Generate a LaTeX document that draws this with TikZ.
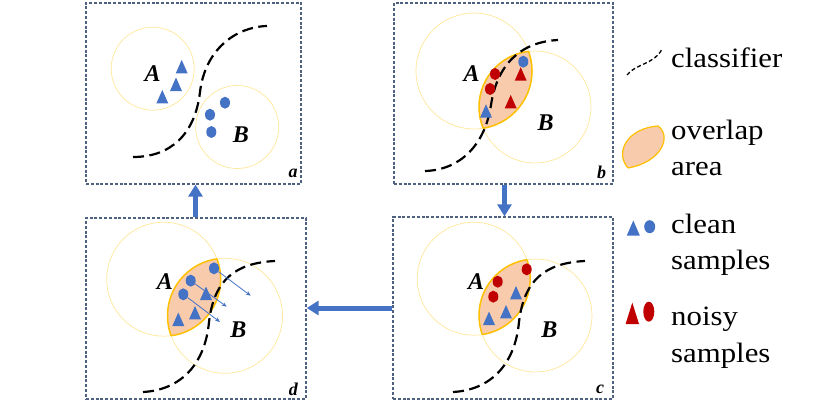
\documentclass[tikz,border=0pt]{standalone}
\usepackage{fontspec}
\setmainfont{Liberation Serif}
\usetikzlibrary{arrows.meta,shapes.geometric}
\definecolor{cblue}{HTML}{4472C4}
\definecolor{cred}{HTML}{C00000}
\definecolor{lensf}{HTML}{F8CBAD}
\definecolor{lensl}{HTML}{FFC000}
\definecolor{ringc}{HTML}{FFE699}
\definecolor{framec}{HTML}{4F6180}
\newcommand\mytri[5]{\fill[#1] (#2-#4,#3+#5) -- (#2+#4,#3+#5) -- (#2,#3-#5) -- cycle;}
\newcommand\mylens[6]{%
  \begin{scope}\clip (#1,#2) circle (#3pt);
    \fill[lensf] (#4,#5) circle (#6pt);
    \draw[draw=lensl,line width=1.5pt] (#4,#5) circle (#6pt);
  \end{scope}
  \begin{scope}\clip (#4,#5) circle (#6pt);
    \draw[draw=lensl,line width=1.5pt] (#1,#2) circle (#3pt);
  \end{scope}}
\begin{document}
\begin{tikzpicture}[x=1pt,y=-1pt,
  panel/.style={draw=framec,line width=1.3pt,dash pattern=on 3pt off 1.8pt,inner sep=0},
  ring/.style={draw=ringc,line width=0.7pt},
  cls/.style={draw=black,line width=2.2pt,dash pattern=on 11pt off 5.5pt},
  dot/.style={ellipse,fill=#1,inner sep=0,minimum width=10pt,minimum height=12pt},
  lbl/.style={font=\fontsize{24}{28}\selectfont\bfseries\itshape,inner sep=0},
  tag/.style={font=\fontsize{18}{21}\selectfont\bfseries\itshape,inner sep=0},
  flow/.style={draw=cblue,line width=5pt,-{Triangle[length=12pt,width=14pt]}},
  move/.style={draw=cblue,line width=0.8pt,-{Stealth[length=5pt,width=4pt]}},
  leg/.style={anchor=base west,inner sep=0,font=\fontsize{28}{36.5}\selectfont,xscale=1.1}
]
\useasboundingbox (0,0) rectangle (830,417);

% panels
\node[panel,minimum width=215pt,minimum height=181pt] (pa) at (193.5,93.5) {};
\node[panel,minimum width=219pt,minimum height=181pt] (pb) at (503.5,93.5) {};
\node[panel,minimum width=220pt,minimum height=181pt] (pd) at (196,308.5) {};
\node[panel,minimum width=220pt,minimum height=182pt] (pc) at (503,308) {};

% panel a
\draw[ring] (152.7,68.7) circle (41.5pt);
\draw[ring] (237.2,127) circle (41.5pt);
\draw[cls] (133,157) .. controls (170,157) and (195,135) .. (200,92) .. controls (205,50) and (235,27) .. (267,26);
\mytri{cblue}{181.7}{66.7}{6}{6.75}
\mytri{cblue}{176}{84.3}{6}{6.75}
\mytri{cblue}{162.3}{96.7}{6}{6.75}
\node[dot=cblue] (a1) at (225,102.7) {};
\node[dot=cblue] (a2) at (210,114.7) {};
\node[dot=cblue] (a3) at (211.3,132) {};
\node[lbl] (aA) at (152.7,74) {A};
\node[lbl] (aB) at (241,135) {B};
\node[tag] (ta) at (293,173.5) {a};

% panel b
\draw[ring] (474,71) circle (58pt);
\draw[ring] (535,107) circle (56pt);
\mylens{474}{71}{58}{535}{107}{56}
\draw[cls] (425,171) .. controls (460,170) and (485,145) .. (491,105) .. controls (497,65) and (520,42) .. (558,40);
\node[dot=cblue] (b1) at (523.3,61.7) {};
\node[dot=cred] (b2) at (495,74) {};
\node[dot=cred] (b3) at (490,89) {};
\mytri{cred}{520.7}{74}{6}{6.75}
\mytri{cred}{510.7}{101.7}{6}{6.75}
\mytri{cblue}{486}{111}{6}{6.75}
\node[lbl] (bA) at (471.7,74) {A};
\node[lbl] (bB) at (545.7,122.7) {B};
\node[tag] (tb) at (601.7,172) {b};

% panel c
\draw[ring] (473.7,278.7) circle (56.5pt);
\draw[ring] (535.5,315.5) circle (56.5pt);
\mylens{473.7}{278.7}{56.5}{535.5}{315.5}{56.5}
\draw[cls] (453,392) .. controls (490,390) and (515,365) .. (519,322) .. controls (524,280) and (545,263) .. (585,261);
\node[dot=cred] (c1) at (526.7,269.3) {};
\node[dot=cred] (c2) at (497.7,281.7) {};
\node[dot=cred] (c3) at (493.3,296.7) {};
\mytri{cblue}{516}{292.7}{6}{6.75}
\mytri{cblue}{506}{311.7}{6}{6.75}
\mytri{cblue}{489}{318.3}{6}{6.75}
\node[lbl] (cA) at (476,281.7) {A};
\node[lbl] (cB) at (549.3,330) {B};
\node[tag] (tc) at (600,389.5) {c};

% panel d
\draw[ring] (163.7,279.2) circle (57pt);
\draw[ring] (225,315.8) circle (57.5pt);
\mylens{163.7}{279.2}{57}{225}{315.8}{57.5}
\draw[cls] (143,392) .. controls (180,390) and (205,365) .. (209,322) .. controls (214,280) and (235,263) .. (275,261);
\mytri{cblue}{206}{293.3}{6}{6.75}
\mytri{cblue}{195}{312.7}{6}{6.75}
\mytri{cblue}{178.3}{319.3}{6}{6.75}
\node[dot=cblue] (d1) at (214,268.3) {};
\node[dot=cblue] (d2) at (190.7,280.7) {};
\node[dot=cblue] (d3) at (183.3,294.3) {};
\coordinate (e1) at (250.7,295.7);
\coordinate (e2) at (226.7,306.7);
\coordinate (e3) at (220,322);
\draw[move] (d1) -- (e1);
\draw[move] (d2) -- (e2);
\draw[move] (d3) -- (e3);
\node[lbl] (dA) at (165,281.7) {A};
\node[lbl] (dB) at (238.3,330) {B};
\node[tag] (td) at (293.3,389.5) {d};

% flow arrows
\coordinate (ux) at (195.5,0);
\coordinate (dx) at (504.5,0);
\coordinate (ly) at (0,308);
\draw[flow] (pd.north -| ux) -- (pa.south -| ux);
\draw[flow] (pb.south -| dx) -- (pc.north -| dx);
\draw[flow] (pc.west |- ly) -- (pd.east |- ly);

% legend
\draw[draw=black,line width=1.3pt,dash pattern=on 4pt off 2.5pt] (627,75) .. controls (635,64) and (655,64) .. (662,49);
\node[leg] (l1) at (671,68) {classifier};
\fill[lensf] (628,168) .. controls (614,152) and (628,128) .. (658,126) .. controls (672,136) and (662,162) .. (628,168);
\draw[draw=lensl,line width=1.2pt] (628,168) .. controls (614,152) and (628,128) .. (658,126) .. controls (672,136) and (662,162) .. (628,168);
\node[leg] (l2) at (671,139.3) {\begin{tabular}[t]{@{}l@{}}overlap\\area\end{tabular}};
\mytri{cblue}{633.3}{228}{6.5}{7.5}
\node[dot=cblue,minimum width=11pt,minimum height=13pt] (l3d) at (649.7,226.7) {};
\node[leg] (l3) at (671,233) {\begin{tabular}[t]{@{}l@{}}clean\\samples\end{tabular}};
\mytri{cred}{632.3}{313.3}{6.7}{10.7}
\node[dot=cred,minimum width=11pt,minimum height=20pt] (l4d) at (648.8,311.7) {};
\node[leg] (l4) at (671,325.5) {\begin{tabular}[t]{@{}l@{}}noisy\\samples\end{tabular}};
\end{tikzpicture}
\end{document}
